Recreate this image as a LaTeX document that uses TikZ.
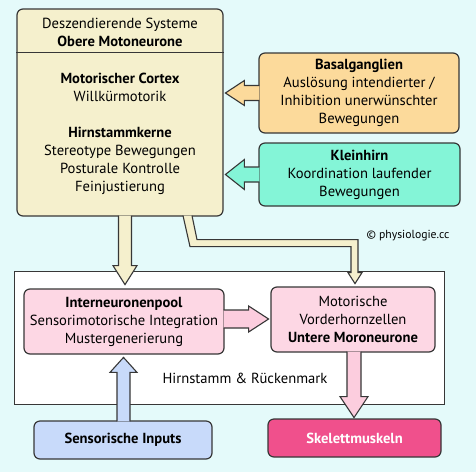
\documentclass[tikz,border=0pt]{standalone}
\usepackage{fontspec}
\setmainfont{PT Sans}
\usetikzlibrary{calc}

\definecolor{bgcyan}{RGB}{228,250,250}
\definecolor{creamfill}{RGB}{245,240,205}
\definecolor{basalfill}{RGB}{252,218,155}
\definecolor{kleinfill}{RGB}{132,245,215}
\definecolor{pinkfill}{RGB}{253,215,228}
\definecolor{pinkarrow}{RGB}{252,205,222}
\definecolor{bluefill}{RGB}{200,218,250}
\definecolor{musclefill}{RGB}{240,80,140}
\definecolor{edgegray}{RGB}{55,55,55}

\tikzset{
  box/.style={draw=edgegray, line width=1.2pt, rounded corners=6pt, align=center, inner sep=0pt},
  blockarrow/.style={draw=edgegray, line width=1.1pt, line join=miter},
}

\begin{document}
\begin{tikzpicture}[x=1pt, y=-1pt, font=\fontsize{14.6}{18}\selectfont]
\fill[bgcyan] (0,0) rectangle (476,472);
% spinal frame
\node[draw=edgegray, line width=0.9pt, fill=white, minimum width=430pt, minimum height=133pt] (cord) at (229,337.5) {};
\node (cordlabel) at (245,378) {Hirnstamm \& Rückenmark};
% descending systems
\node[box, fill=creamfill, minimum width=206pt, minimum height=207pt] (desc) at (120,112.5) {};
\draw[line width=1pt, draw=edgegray] (desc.west |- 0,52) -- (desc.east |- 0,52);
\node[align=center] (deschead) at (120,32) {Deszendierende Systeme\\\textbf{Obere Motoneurone}};
\node[align=center] (descbody) at (120,134) {\textbf{Motorischer Cortex}\\Willkürmotorik\\[18pt]\textbf{Hirnstammkerne}\\Stereotype Bewegungen\\Posturale Kontrolle\\Feinjustierung};
\node[box, fill=basalfill, minimum width=200pt, minimum height=80pt] (basal) at (359,93) {\textbf{Basalganglien}\\Auslösung intendierter /\\Inhibition unerwünschter\\Bewegungen};
\node[box, fill=kleinfill, minimum width=201pt, minimum height=63pt] (klein) at (359.5,174.5) {\textbf{Kleinhirn}\\Koordination laufender\\Bewegungen};
\node[font=\fontsize{11.7}{13}\selectfont] (copy) at (408,236) {© physiologie.cc};
% spinal level
\node[box, fill=pinkfill, minimum width=200pt, minimum height=65pt] (inter) at (124,321.5) {\textbf{Interneuronenpool}\\Sensorimotorische Integration\\Mustergenerierung};
\node[box, fill=pinkfill, minimum width=164pt, minimum height=65pt] (vorder) at (353,319.5) {Motorische\\Vorderhornzellen\\\textbf{Untere Moroneurone}};
\node[box, fill=bluefill, minimum width=178pt, minimum height=38pt] (sensor) at (123,440) {\textbf{Sensorische Inputs}};
\node[box, fill=musclefill, text=white, minimum width=173pt, minimum height=38pt] (muscle) at (354.5,438) {\textbf{Skelettmuskeln}};
% block arrows
\foreach \n/\c/\h in {basal/basalfill/12.5, klein/kleinfill/15}{
  \filldraw[blockarrow, fill=\c] ($(\n.west)+(1,-7.5)$) -- ++(-15,0) -- ++(0,{7.5-\h}) -- ++(-19,\h) -- ++(19,\h) -- ++(0,{7.5-\h}) -- ++(15,0);
}
\filldraw[blockarrow, fill=creamfill] ($(desc.south)+(-1.5,-1)$) -- ++(0,50) -- ++(-5.5,0) -- ++(12,19) -- ++(12,-19) -- ++(-5.5,0) -- ++(0,-50);
\filldraw[blockarrow, fill=creamfill] ($(desc.south)+(63,-1)$) -- ++(7,31) -- ++(161,0) -- ++(0,26) -- ++(-3,0) -- ++(7,11) -- ++(7,-11) -- ++(-4,0) -- ++(0,-33) -- ++(-161,0) -- ++(-5,-24);
\filldraw[blockarrow, fill=pinkarrow] ($(inter.east)+(-1,-11.5)$) -- ++(25,0) -- ++(0,-4) -- ++(20,13) -- ++(-20,13) -- ++(0,-4) -- ++(-25,0);
\filldraw[blockarrow, fill=pinkarrow] ($(vorder.south)+(-6,-1)$) -- ++(0,45) -- ++(-7,0) -- ++(14,21) -- ++(14,-21) -- ++(-7,0) -- ++(0,-45);
\filldraw[blockarrow, fill=bluefill] ($(sensor.north)+(-6,1)$) -- ++(0,-49) -- ++(-7,0) -- ++(13.5,-15) -- ++(13.5,15) -- ++(-7,0) -- ++(0,49);
\end{tikzpicture}
\end{document}
